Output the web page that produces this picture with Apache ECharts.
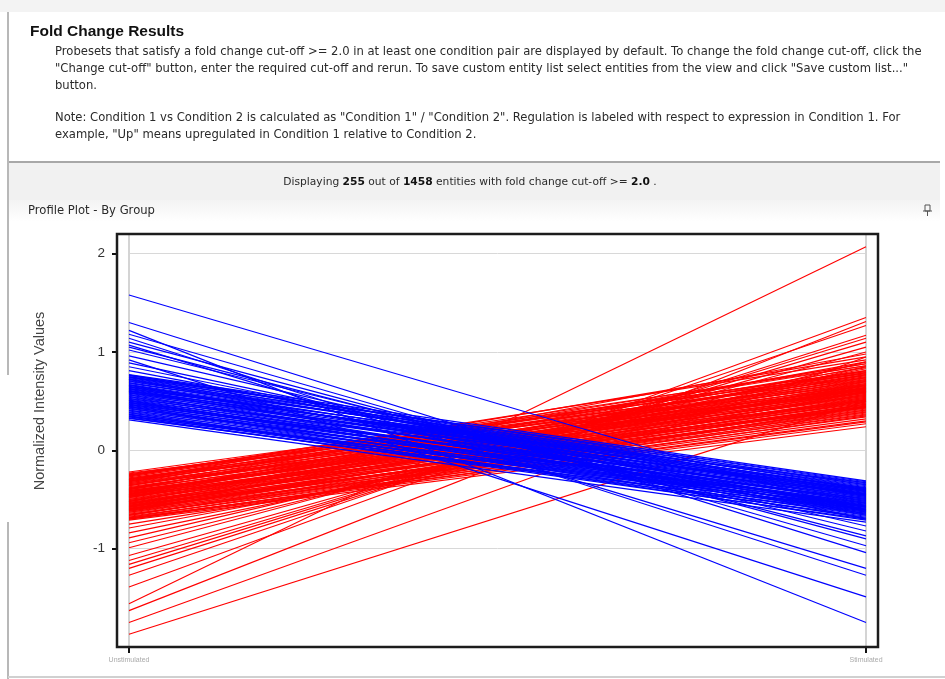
<!DOCTYPE html>
<html>
<head>
<meta charset="utf-8">
<script src="https://cdn.jsdelivr.net/npm/echarts@6/dist/echarts.min.js"></script>
<style>
  html, body { margin: 0; padding: 0; background: #ffffff; }
  #chart { width: 945px; height: 679px; }
</style>
</head>
<body>
<div id="chart"></div>
<script>
// Profile plot: each entity is a line joining its normalized value in the two conditions.
const conditions = ['Unstimulated', 'Stimulated'];
const yTickValues = [-1, 0, 1, 2];

// Up-regulated entities (red): value in first condition, value in second condition
const upStart = [
  -0.22, -0.24, -0.25, -0.27, -0.28, -0.29, -0.30, -0.31, -0.32, -0.33,
  -0.34, -0.35, -0.36, -0.37, -0.38, -0.39, -0.40, -0.41, -0.42, -0.42,
  -0.43, -0.44, -0.45, -0.45, -0.46, -0.47, -0.48, -0.48, -0.49, -0.50,
  -0.51, -0.51, -0.52, -0.53, -0.54, -0.54, -0.55, -0.56, -0.57, -0.57,
  -0.58, -0.59, -0.60, -0.60, -0.61, -0.62, -0.63, -0.63, -0.64, -0.65,
  -0.66, -0.66, -0.67, -0.68, -0.69, -0.70, -0.71,
  -0.23, -0.26, -0.29, -0.32, -0.35, -0.38, -0.41, -0.44, -0.47, -0.50,
  -0.53, -0.56, -0.59, -0.62, -0.65, -0.68, -0.70, -0.25, -0.34, -0.43,
  -0.52, -0.61, -0.39, -0.48, -0.57, -0.66, -0.31, -0.46, -0.58, -0.69,
  -0.30, -0.45, -0.36, -0.52, -0.40, -0.60, -0.26, -0.33, -0.47, -0.55,
  -0.75, -0.79, -0.84, -0.89, -0.94, -0.99, -1.07, -1.12, -1.16, -1.20,
  -1.27, -1.39, -1.56, -1.63, -1.75, -1.87
];
const upEnd = [
  0.80, 0.78, 0.74, 0.79, 0.70, 0.76, 0.72, 0.68, 0.75, 0.66,
  0.71, 0.64, 0.69, 0.62, 0.73, 0.60, 0.67, 0.58, 0.65, 0.56,
  0.63, 0.61, 0.54, 0.70, 0.59, 0.52, 0.57, 0.66, 0.55, 0.50,
  0.53, 0.62, 0.48, 0.58, 0.51, 0.46, 0.56, 0.44, 0.49, 0.60,
  0.47, 0.42, 0.53, 0.40, 0.45, 0.38, 0.50, 0.36, 0.43, 0.34,
  0.41, 0.47, 0.32, 0.39, 0.30, 0.27, 0.24,
  0.67, 0.81, 0.63, 0.77, 0.59, 0.71, 0.55, 0.74, 0.51, 0.68,
  0.45, 0.64, 0.41, 0.57, 0.37, 0.44, 0.35, 0.86, 0.61, 0.79,
  0.72, 0.54, 0.84, 0.63, 0.39, 0.52, 0.88, 0.43, 0.66, 0.29,
  0.95, 0.90, 0.88, 0.85, 0.98, 0.83, 0.92, 0.86, 0.81, 0.77,
  0.45, 0.60, 0.70, 0.85, 0.90, 1.00, 1.05, 1.10, 1.14, 1.17,
  1.27, 1.35, 2.07, 1.31, 0.95, 0.50
];

// Down-regulated entities (blue): value in first condition, value in second condition
const downStart = [
  0.77, 0.76, 0.75, 0.74, 0.73, 0.72, 0.71, 0.70, 0.69, 0.68,
  0.67, 0.66, 0.65, 0.64, 0.63, 0.62, 0.61, 0.60, 0.59, 0.58,
  0.57, 0.56, 0.55, 0.54, 0.53, 0.52, 0.51, 0.50, 0.49, 0.48,
  0.47, 0.46, 0.45, 0.44, 0.43, 0.42, 0.41, 0.40, 0.39, 0.38,
  0.37, 0.36, 0.35, 0.34, 0.33, 0.31,
  0.765, 0.745, 0.725, 0.705, 0.685, 0.665, 0.645, 0.625, 0.605, 0.585,
  0.565, 0.545, 0.525, 0.505, 0.485, 0.465, 0.445, 0.425, 0.405, 0.385,
  0.365, 0.345, 0.325, 0.72, 0.60,
  0.81, 0.85, 0.89, 0.92, 0.96, 1.02, 1.05, 1.07, 1.10, 1.14,
  1.18, 1.22, 1.30, 1.58
];
const downEnd = [
  -0.31, -0.35, -0.33, -0.40, -0.37, -0.44, -0.34, -0.39, -0.47, -0.36,
  -0.42, -0.50, -0.38, -0.45, -0.41, -0.53, -0.43, -0.48, -0.46, -0.56,
  -0.44, -0.51, -0.49, -0.58, -0.47, -0.54, -0.52, -0.60, -0.50, -0.57,
  -0.55, -0.62, -0.53, -0.59, -0.64, -0.56, -0.61, -0.66, -0.58, -0.63,
  -0.68, -0.60, -0.65, -0.70, -0.67, -0.73,
  -0.38, -0.32, -0.46, -0.41, -0.35, -0.52, -0.45, -0.39, -0.57, -0.42,
  -0.61, -0.48, -0.40, -0.63, -0.51, -0.45, -0.69, -0.54, -0.49, -0.71,
  -0.62, -0.57, -0.64, -0.66, -0.33,
  -0.60, -0.65, -0.70, -1.49, -0.77, -0.82, -0.87, -1.20, -0.90, -1.27,
  -0.97, -1.75, -1.04, -0.63
];

const FONT = '"Liberation Sans", Arial, sans-serif';
const BODY_FONT = '"DejaVu Sans", Verdana, sans-serif';

function profileSeries(starts, ends, color, z) {
  return starts.map((s, i) => ({
    type: 'line',
    data: [s, ends[i]],
    symbol: 'none',
    silent: true,
    z: z,
    lineStyle: { color: color, width: 1.15, opacity: 1 }
  }));
}

const chart = echarts.init(document.getElementById('chart'), null, { renderer: 'canvas' });

const bodyText = (text, x, y) => ({
  type: 'text',
  style: { text: text, x: x, y: y, font: '11.6px ' + BODY_FONT, fill: '#2a2a2a', textVerticalAlign: 'middle' }
});

const option = {
  animation: false,
  backgroundColor: '#ffffff',
  grid: { left: 129, right: 79, top: 234, height: 413 },
  xAxis: {
    type: 'category',
    data: conditions,
    boundaryGap: false,
    axisLine: { show: false, onZero: false },
    axisTick: { show: true, length: 6, lineStyle: { color: '#111', width: 2 } },
    axisLabel: { color: '#aaa', fontSize: 7, fontFamily: FONT, margin: 10 },
    splitLine: { show: true, lineStyle: { color: '#d4d4d4', width: 2 } }
  },
  yAxis: {
    type: 'value',
    min: -2,
    max: 2.2,
    interval: 1,
    offset: 12,
    axisLine: { show: false },
    axisTick: { show: true, length: 5, customValues: yTickValues, lineStyle: { color: '#111', width: 2 } },
    axisLabel: {
      color: '#333', fontSize: 13.5, fontFamily: FONT, margin: 12,
      customValues: yTickValues,
      formatter: v => (yTickValues.indexOf(v) >= 0 ? String(v) : '')
    },
    splitLine: { show: true, lineStyle: { color: '#d8d8d8', width: 1 } }
  },
  graphic: [
    // panel chrome
    { type: 'rect', shape: { x: 0, y: 0, width: 945, height: 12 }, style: { fill: '#f3f3f3' }, z: -10 },
    { type: 'line', shape: { x1: 8, y1: 12, x2: 8, y2: 375 }, style: { stroke: '#b8b8b8', lineWidth: 2 }, z: -5 },
    { type: 'line', shape: { x1: 8, y1: 522, x2: 8, y2: 679 }, style: { stroke: '#b8b8b8', lineWidth: 2 }, z: -5 },
    { type: 'line', shape: { x1: 8, y1: 677, x2: 945, y2: 677 }, style: { stroke: '#d0d0d0', lineWidth: 2 }, z: -5 },
    { type: 'rect', shape: { x: 9, y: 163, width: 931, height: 37 }, style: { fill: '#f1f1f1' }, z: -9 },
    { type: 'line', shape: { x1: 9, y1: 162, x2: 940, y2: 162 }, style: { stroke: '#a8a8a8', lineWidth: 2 }, z: -5 },
    {
      type: 'rect', shape: { x: 9, y: 200, width: 931, height: 22 }, z: -9,
      style: {
        fill: new echarts.graphic.LinearGradient(0, 0, 0, 1, [
          { offset: 0, color: '#f3f3f3' }, { offset: 1, color: '#ffffff' }
        ])
      }
    },
    // header texts
    { type: 'text', style: { text: 'Fold Change Results', x: 30, y: 32, font: 'bold 15.5px ' + FONT, fill: '#111', textVerticalAlign: 'middle' } },
    bodyText('Probesets that satisfy a fold change cut-off >= 2.0 in at least one condition pair are displayed by default. To change the fold change cut-off, click the', 55, 52),
    bodyText('"Change cut-off" button, enter the required cut-off and rerun. To save custom entity list select entities from the view and click "Save custom list..."', 55, 69),
    bodyText('button.', 55, 86),
    bodyText('Note: Condition 1 vs Condition 2 is calculated as "Condition 1" / "Condition 2". Regulation is labeled with respect to expression in Condition 1. For', 55, 118),
    bodyText('example, "Up" means upregulated in Condition 1 relative to Condition 2.', 55, 135),
    {
      type: 'text',
      style: {
        text: 'Displaying {b|255} out of {b|1458} entities with fold change cut-off >= {b|2.0} .',
        x: 470, y: 182, textAlign: 'center', textVerticalAlign: 'middle',
        font: '10.7px ' + BODY_FONT, fill: '#2a2a2a',
        rich: { b: { fontWeight: 'bold', fontSize: 10.7, fontFamily: BODY_FONT, fill: '#111' } }
      }
    },
    bodyText('Profile Plot - By Group', 28, 211),
    // pin icon
    { type: 'rect', shape: { x: 925, y: 205, width: 5, height: 6 }, style: { fill: 'none', stroke: '#555', lineWidth: 1 } },
    { type: 'line', shape: { x1: 923, y1: 211, x2: 932, y2: 211 }, style: { stroke: '#555', lineWidth: 1 } },
    { type: 'line', shape: { x1: 927.5, y1: 211, x2: 927.5, y2: 216 }, style: { stroke: '#555', lineWidth: 1 } },
    // y-axis title
    {
      type: 'text', x: 40, y: 401, rotation: Math.PI / 2,
      style: { text: 'Normalized Intensity Values', font: '14.5px ' + FONT, fill: '#444', textAlign: 'center', textVerticalAlign: 'middle' }
    },
    // plot frame
    { type: 'rect', shape: { x: 117, y: 234, width: 761, height: 413 }, style: { fill: 'none', stroke: '#1c1c1c', lineWidth: 2.5 }, z: 100 }
  ],
  series: [].concat(
    profileSeries(upStart, upEnd, '#ff0000', 2),
    profileSeries(downStart, downEnd, '#0000ff', 3)
  )
};

chart.setOption(option);
</script>
</body>
</html>
